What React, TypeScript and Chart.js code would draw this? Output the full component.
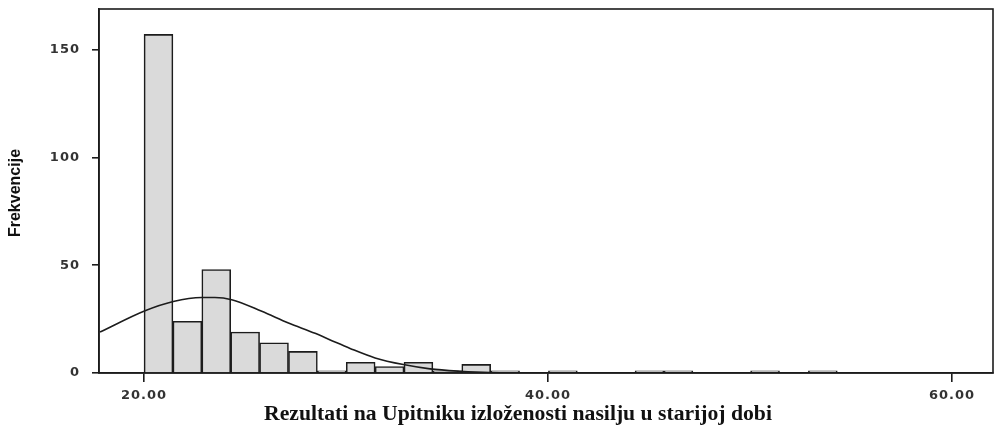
import React, { useEffect, useRef } from "react";
import { Chart, registerables } from "chart.js";

Chart.register(...registerables);

// Histogram bins
const binStart = 20;
const binWidth = 1.43;
const counts = [157, 24, 48, 19, 14, 10, 1, 5, 3, 5, 1, 4, 1, 0, 1, 0, 0, 1, 1, 0, 0, 1, 0, 1];

// Normal curve
const curveX = [17.82, 20.05, 21.45, 22.86, 23.51, 24.34, 25.83, 27.15, 28.47, 29.3, 30.2, 31.44, 32.84, 34.16, 35.64, 37.13, 40, 45, 62];
const curveY = [19.0, 28.9, 33.2, 35.0, 35.0, 34.0, 28.6, 23.2, 18.4, 15.0, 11.4, 7.0, 3.9, 1.9, 0.8, 0.2, 0.02, 0, 0];

// Axes
const xTicks = [20, 40, 60];
const yTicks = [0, 50, 100, 150];
const xMin = 17.77;
const xMax = 62.03;
const yMax = 168.8;
const xTitle = "Rezultati na Upitniku izloženosti nasilju u starijoj dobi";
const yTitle = "Frekvencije";

const INK = "#1c1c1c";

const framePlugin = {
  id: "frameAndTitles",
  beforeDraw(chart: any) {
    (chart.ctx as any).letterSpacing = "1px";
  },
  afterDraw(chart: any) {
    const ctx = chart.ctx;
    const a = chart.chartArea;
    ctx.save();
    (ctx as any).letterSpacing = "0px";
    ctx.strokeStyle = INK;
    ctx.lineWidth = 1.6;
    ctx.strokeRect(a.left, a.top, a.right - a.left, a.bottom - a.top);

    ctx.fillStyle = "#111";
    ctx.font = "bold 21.7px 'Liberation Serif'";
    ctx.textAlign = "center";
    ctx.textBaseline = "alphabetic";
    ctx.fillText(xTitle, 518, 420);

    ctx.translate(16, 193);
    ctx.rotate(-Math.PI / 2);
    ctx.font = "bold 16px 'Liberation Sans'";
    ctx.textAlign = "center";
    ctx.textBaseline = "middle";
    ctx.fillText(yTitle, 0, 0);
    ctx.restore();
    (ctx as any).letterSpacing = "0px";
  },
};

export default function App() {
  const ref = useRef<HTMLCanvasElement>(null);

  useEffect(() => {
    document.body.style.margin = "0";
    const canvas = ref.current!;
    const tickFont = { family: "'DejaVu Sans'", size: 13, weight: "bold" as const };
    const chart = new Chart(canvas, {
      type: "bar",
      data: {
        datasets: [
          {
            type: "line",
            data: curveX.map((x, i) => ({ x, y: curveY[i] })),
            borderColor: INK,
            borderWidth: 1.6,
            pointRadius: 0,
            cubicInterpolationMode: "monotone",
            fill: false,
            order: 0,
          } as any,
          {
            type: "bar",
            data: counts.map((c, i) => ({ x: binStart + (i + 0.5) * binWidth, y: c })),
            backgroundColor: "#dadada",
            borderColor: INK,
            borderWidth: 1.6,
            barPercentage: 1,
            categoryPercentage: 1,
            grouped: false,
            order: 1,
          } as any,
        ],
      },
      options: {
        responsive: false,
        animation: false,
        events: [],
        layout: { autoPadding: false, padding: { top: 9, right: 5, left: 0, bottom: 0 } },
        plugins: { legend: { display: false }, tooltip: { enabled: false } },
        scales: {
          x: {
            type: "linear",
            min: xMin,
            max: xMax,
            offset: false,
            afterBuildTicks: (s: any) => {
              s.ticks = xTicks.map((v) => ({ value: v }));
            },
            afterFit: (s: any) => {
              s.height = 59;
              s.paddingLeft = 0;
              s.paddingRight = 0;
            },
            ticks: {
              autoSkip: false,
              maxRotation: 0,
              padding: 6,
              color: "#333",
              font: tickFont,
              callback: (v: any) => Number(v).toFixed(2),
            },
            grid: {
              display: true,
              offset: false,
              drawOnChartArea: false,
              drawTicks: true,
              tickLength: 9,
              color: INK,
              lineWidth: 1.6,
            },
            border: { display: true, color: INK, width: 1.6 },
          },
          y: {
            type: "linear",
            min: 0,
            max: yMax,
            afterBuildTicks: (s: any) => {
              s.ticks = yTicks.map((v) => ({ value: v }));
            },
            afterFit: (s: any) => {
              s.width = 99;
              s.paddingTop = 0;
              s.paddingBottom = 0;
            },
            ticks: {
              padding: 12,
              color: "#333",
              font: tickFont,
            },
            grid: {
              display: true,
              drawOnChartArea: false,
              drawTicks: true,
              tickLength: 7,
              color: INK,
              lineWidth: 1.6,
            },
            border: { display: true, color: INK, width: 1.6 },
          },
        },
      },
      plugins: [framePlugin],
    });
    return () => chart.destroy();
  }, []);

  return (
    <div style={{ width: 998, height: 432 }}>
      <canvas ref={ref} width={998} height={432} style={{ display: "block" }} />
    </div>
  );
}
